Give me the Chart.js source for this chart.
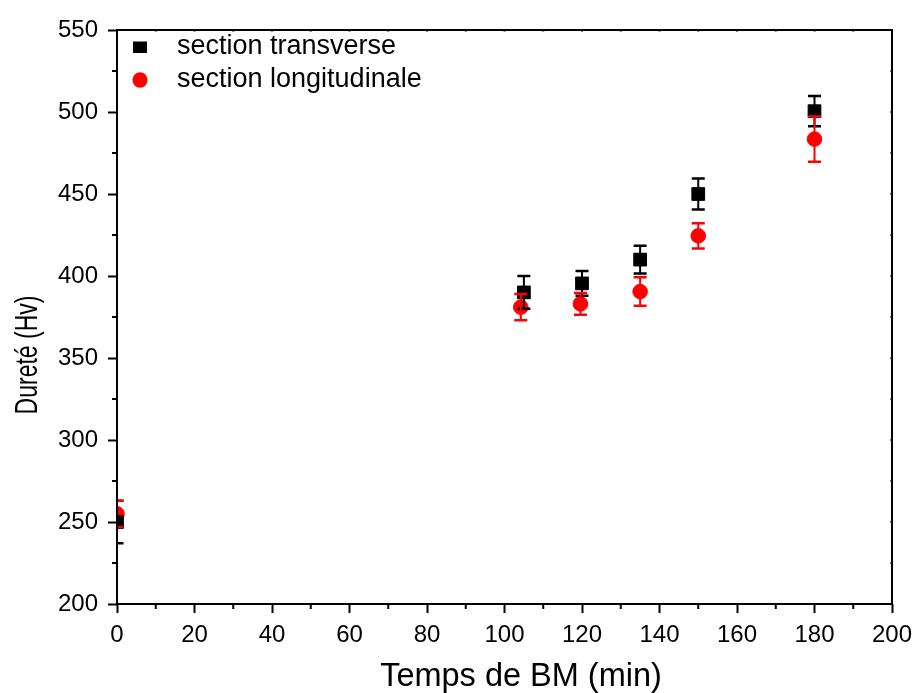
<!DOCTYPE html>
<html>
<head>
<meta charset="utf-8">
<script src="https://cdn.jsdelivr.net/npm/chart.js@4/dist/chart.umd.min.js"></script>
<style>
html,body{margin:0;padding:0;background:#ffffff;}
#wrap{width:912px;height:693px;position:relative;}
</style>
</head>
<body>
<div id="wrap"><canvas id="c" width="912" height="693"></canvas></div>
<script>
// ---- data ----
const seriesNames = ['section transverse', 'section longitudinale'];
const timeTransverse = [0, 105, 120, 135, 150, 180];
const hardnessTransverse = [250, 390, 395.5, 410, 450, 500.5];
const errorTransverse = [13, 10, 7.5, 8.5, 9.5, 9.2];
const timeLongitudinal = [0, 104.2, 119.6, 135, 150, 180];
const hardnessLongitudinal = [255, 381, 383, 390.5, 424.5, 483.5];
const errorLongitudinal = [8, 8, 6.7, 8.7, 7.7, 13.8];
const xTickLabels = [0, 20, 40, 60, 80, 100, 120, 140, 160, 180, 200];
const yTickLabels = [200, 250, 300, 350, 400, 450, 500, 550];
const xMinorTicks = [10, 30, 50, 70, 90, 110, 130, 150, 170, 190];
const yMinorTicks = [225, 275, 325, 375, 425, 475, 525];
const xTitle = 'Temps de BM (min)';
const yTitle = 'Dureté (Hv)';

const FONT = '"Liberation Sans", Arial, Helvetica, sans-serif';
const errorsByDataset = [errorTransverse, errorLongitudinal];

function toPoints(xs, ys) { return xs.map((x, i) => ({x: x, y: ys[i]})); }

const errorBarsPlugin = {
  id: 'errorBars',
  afterDatasetsDraw(chart) {
    const {ctx, chartArea, scales} = chart;
    ctx.save();
    ctx.beginPath();
    ctx.rect(chartArea.left, chartArea.top, chartArea.right - chartArea.left, chartArea.bottom - chartArea.top);
    ctx.clip();
    chart.data.datasets.forEach((ds, di) => {
      const errs = errorsByDataset[di];
      ctx.strokeStyle = ds.borderColor;
      ds.data.forEach((p, i) => {
        const x = scales.x.getPixelForValue(p.x);
        const yt = scales.y.getPixelForValue(p.y + errs[i]);
        const yb = scales.y.getPixelForValue(p.y - errs[i]);
        ctx.lineWidth = 2;
        ctx.beginPath();
        ctx.moveTo(x, yt); ctx.lineTo(x, yb);
        ctx.stroke();
        ctx.lineWidth = 2.5;
        ctx.beginPath();
        ctx.moveTo(x - 6.5, yt); ctx.lineTo(x + 6.5, yt);
        ctx.moveTo(x - 6.5, yb); ctx.lineTo(x + 6.5, yb);
        ctx.stroke();
      });
    });
    ctx.restore();
  }
};

const framePlugin = {
  id: 'frame',
  afterDraw(chart) {
    const {ctx, chartArea, scales} = chart;
    const {left, right, top, bottom} = chartArea;
    ctx.save();
    ctx.strokeStyle = '#000';
    ctx.lineWidth = 2;
    ctx.beginPath();
    xMinorTicks.forEach(v => {
      const x = scales.x.getPixelForValue(v);
      ctx.moveTo(x, bottom); ctx.lineTo(x, bottom + 5);
      ctx.moveTo(x, top); ctx.lineTo(x, top + 1.5);
    });
    yMinorTicks.forEach(v => {
      const y = scales.y.getPixelForValue(v);
      ctx.moveTo(left, y); ctx.lineTo(left - 5, y);
      ctx.moveTo(right, y); ctx.lineTo(right - 1.5, y);
    });
    xTickLabels.forEach(v => {
      const x = scales.x.getPixelForValue(v);
      ctx.moveTo(x, top); ctx.lineTo(x, top + 1.5);
    });
    yTickLabels.forEach(v => {
      const y = scales.y.getPixelForValue(v);
      ctx.moveTo(right, y); ctx.lineTo(right - 1.5, y);
    });
    ctx.stroke();
    ctx.lineWidth = 2;
    ctx.strokeRect(left, top, right - left, bottom - top);

    ctx.fillStyle = '#000';
    ctx.textAlign = 'center';
    ctx.textBaseline = 'middle';
    ctx.font = '32.5px ' + FONT;
    ctx.fillText(xTitle, 521, 677);
    ctx.save();
    ctx.translate(28, 355);
    ctx.rotate(-Math.PI / 2);
    ctx.scale(1, 1.38);
    ctx.font = '23px ' + FONT;
    ctx.fillText(yTitle, 0, 0);
    ctx.restore();

    const ds = chart.data.datasets;
    ctx.textAlign = 'left';
    ctx.font = '27px ' + FONT;
    ctx.fillStyle = ds[0].backgroundColor;
    ctx.fillRect(133, 41.5, 14, 11.5);
    ctx.fillStyle = '#000';
    ctx.fillText(ds[0].label, 177, 47);
    ctx.fillStyle = ds[1].backgroundColor;
    ctx.beginPath();
    ctx.ellipse(140, 80, 7.5, 7.8, 0, 0, Math.PI * 2);
    ctx.fill();
    ctx.fillStyle = '#000';
    ctx.fillText(ds[1].label, 177, 80);
    ctx.restore();
  }
};

new Chart(document.getElementById('c'), {
  type: 'scatter',
  data: {
    datasets: [
      {
        label: seriesNames[0],
        data: toPoints(timeTransverse, hardnessTransverse),
        pointStyle: 'rect',
        pointRadius: 9,
        pointHoverRadius: 9,
        backgroundColor: '#000000',
        borderColor: '#000000',
        borderWidth: 1
      },
      {
        label: seriesNames[1],
        data: toPoints(timeLongitudinal, hardnessLongitudinal),
        pointStyle: 'circle',
        pointRadius: 7.3,
        pointHoverRadius: 7.3,
        backgroundColor: '#ff0000',
        borderColor: '#ff0000',
        borderWidth: 1
      }
    ]
  },
  options: {
    responsive: false,
    animation: false,
    devicePixelRatio: 1,
    layout: { padding: { left: 0, right: 20, top: 30, bottom: 0 } },
    plugins: {
      legend: { display: false },
      tooltip: { enabled: false }
    },
    scales: {
      x: {
        type: 'linear',
        min: 0, max: 200,
        afterBuildTicks(scale) { scale.ticks = xTickLabels.map(v => ({value: v})); },
        afterFit(scale) { scale.height = 89; scale.paddingLeft = 0; scale.paddingRight = 0; },
        grid: { drawOnChartArea: false, drawTicks: true, tickLength: 9, tickWidth: 2, tickColor: '#000' },
        border: { display: false },
        ticks: { color: '#000', font: { family: FONT, size: 24 }, padding: 8, maxRotation: 0, autoSkip: false }
      },
      y: {
        type: 'linear',
        min: 200, max: 550,
        afterBuildTicks(scale) { scale.ticks = yTickLabels.map(v => ({value: v})); },
        afterFit(scale) { scale.width = 117; scale.paddingTop = 0; scale.paddingBottom = 0; },
        grid: { drawOnChartArea: false, drawTicks: true, tickLength: 9, tickWidth: 2, tickColor: '#000' },
        border: { display: false },
        ticks: { color: '#000', font: { family: FONT, size: 24 }, padding: 10, autoSkip: false }
      }
    }
  },
  plugins: [errorBarsPlugin, framePlugin]
});
</script>
</body>
</html>
